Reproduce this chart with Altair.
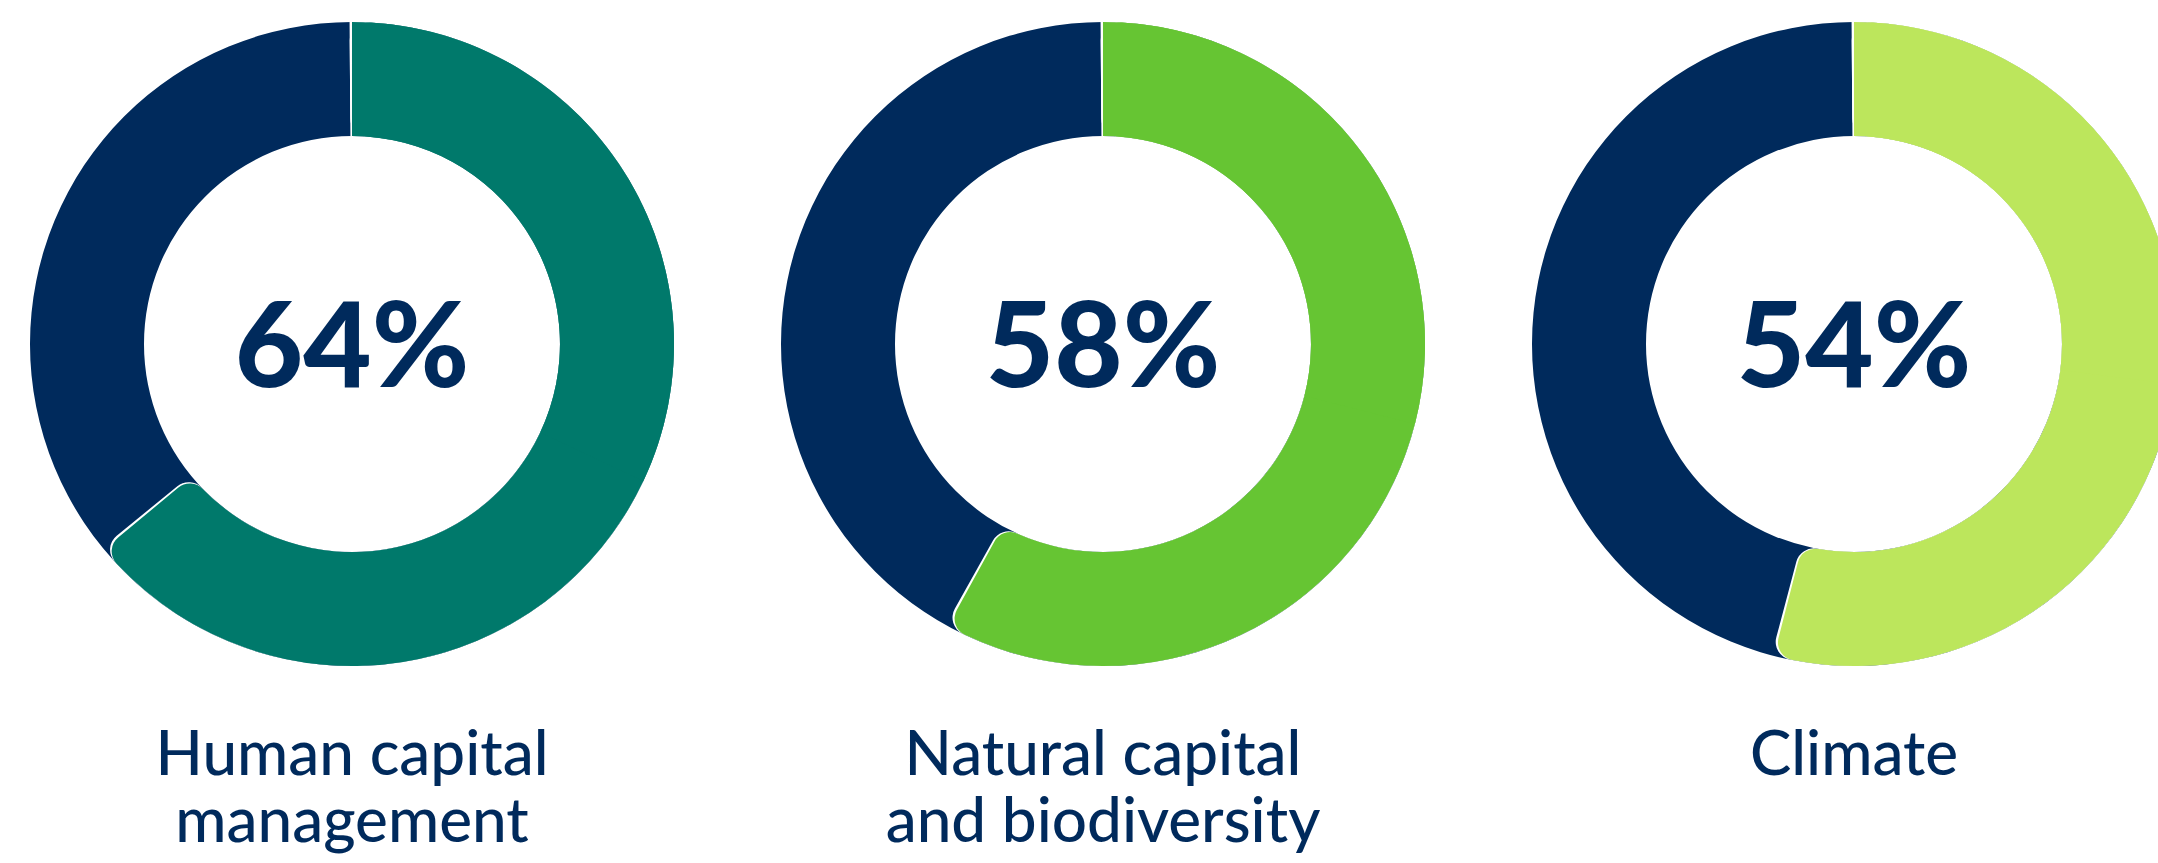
import altair as alt
import pandas as pd

# Data
categories = ["Human capital\nmanagement", "Natural capital\nand biodiversity", "Climate"]
values = [64, 58, 54]
positions = [0, 1, 2]
colors = ["#00796B", "#66C533", "#BCE65C"]
navy = "#002A5C"

df = pd.DataFrame({
    "category": categories,
    "value": values,
    "pos": positions,
})

W, H = 2158, 863
R_OUT, R_IN, CORNER = 322, 208, 18
GAP = 0.12  # white separator, in percent units of the ring

x_enc = alt.X("pos:Q", stack=False,
              scale=alt.Scale(domain=[-0.4687, 2.4048], nice=False, zero=False), axis=None)
theta_scale = alt.Scale(domain=[0, 100])

share_color = (
    alt.when(alt.datum.pos == positions[0]).then(alt.value(colors[0]))
    .when(alt.datum.pos == positions[1]).then(alt.value(colors[1]))
    .otherwise(alt.value(colors[2]))
)

base = alt.Chart(df).transform_calculate(
    zero="0",
    full="100",
    half="datum.value / 2",
    gap_start=f"-{GAP}",
    gap_end=f"datum.value + {GAP}",
    pct="datum.value + '%'",
)


def arc_layer(start, end, fill, corner=0):
    kw = dict(outerRadius=R_OUT, innerRadius=R_IN)
    if corner:
        kw["cornerRadius"] = corner
    enc = dict(
        x=x_enc,
        y=alt.value(344),
        theta=alt.Theta(f"{start}:Q", scale=theta_scale, stack=False),
        theta2=f"{end}:Q",
    )
    if isinstance(fill, str):
        return base.mark_arc(color=fill, **kw).encode(**enc)
    return base.mark_arc(**kw).encode(fill=fill, **enc)


ring = arc_layer("zero", "full", navy)
halo_round = arc_layer("gap_start", "gap_end", "white", CORNER)
halo_start = arc_layer("gap_start", "half", "white")
share_round = arc_layer("zero", "value", share_color, CORNER)
share_start = arc_layer("zero", "half", share_color)

pct_text = base.mark_text(
    font="Lato", fontWeight=900, fontSize=118, color=navy,
    align="center", baseline="alphabetic"
).encode(
    x=x_enc,
    y=alt.value(387),
    text="pct:N",
)

label_text = base.mark_text(
    font="Lato", fontWeight=500, fontSize=62, color=navy,
    align="center", baseline="alphabetic", lineBreak="\n", lineHeight=67
).encode(
    x=x_enc,
    y=alt.value(775),
    text="category:N",
)

chart = alt.layer(
    ring, halo_round, halo_start, share_round, share_start, pct_text, label_text
).properties(
    width=W, height=H, autosize="none", padding=0
).configure_view(stroke=None)

chart.save("out.html", embed_options={"renderer": "svg", "actions": False})
